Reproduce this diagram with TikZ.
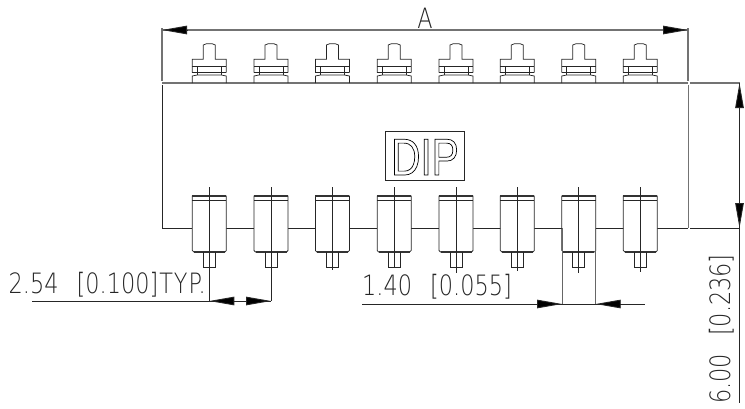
\documentclass[tikz,border=0pt]{standalone}
\usepackage{fontspec}
\usetikzlibrary{arrows.meta,calc}
\newfontfamily\cadfont[FakeStretch=0.8]{DejaVu Sans ExtraLight}
\newfontfamily\dipfont[FakeStretch=0.78]{Liberation Sans}
\tikzset{
  thin line/.style={line width=0.75pt,draw=black!85},
  gray line/.style={line width=1.3pt,draw=black!55},
  dim/.style={line width=0.9pt,draw=black!85},
  tip/.style={-{Triangle[length=25pt,width=8.5pt,fill=black]}},
  cad/.style={inner sep=0pt,font=\cadfont\fontsize{28}{28}\selectfont,text=black!85},
}
\begin{document}
\begin{tikzpicture}[x=1pt,y=-1pt]
\useasboundingbox (0,0) rectangle (745,408);
% body outline
\draw[gray line] (162,83) -- (688,83);
\draw[gray line] (162,28) -- (162,81);
\draw[gray line] (688,28) -- (688,81);
\draw[thin line] (162,85) -- (162,228) -- (192,228);
\draw[gray line,line width=1pt] (688,85) -- (688,228);
\draw[thin line] (657,228) -- (688,228);
\draw[thin line] (226,228) -- (640,228);
% pins
\foreach \x/\e in {209.3/301,271/301,332.4/270,394.2/268,456/273,517.3/271,578.8/273,640.3/272}{
  \begin{scope}[shift={(\x,0)}]
    % top pins
    \draw[thin line] (-17,83) -- (-17,76) -- (-12,75) -- (12,75) -- (17,76) -- (17,83);
    \draw[thin line] (-12,66.7) -- (-12,75) (12,66.7) -- (12,75);
    \draw[thin line] (-17,72.7) -- (17,72.7);
    \draw[thin line] (-17,66.7) -- (17,66.7);
    \draw[thin line] (-17,72.7) -- (-17,59.3) -- (-6,59.3) -- (-6,45) -- (-3,43.8) -- (3,43.8) -- (6,45) -- (6,59.3) -- (17,59.3) -- (17,72.7);
    % bottom pins
    \draw[thin line,fill=white] (-17,196) -- (17,196) -- (17,250.5) -- (15.5,252) -- (-15.5,252) -- (-17,250.5) -- cycle;
    \draw[line width=1.4pt,draw=black!80] (-17,196) -- (17,196);
    \draw[line width=1.1pt,draw=black!80] (-15.5,252) -- (15.5,252);
    \draw[thin line] (-17,200.5) -- (17,200.5);
    \draw[thin line] (-6,252) -- (-6,267) -- (6,267) -- (6,252);
    \draw[thin line] (0,187) -- (0,\e);
  \end{scope}
}
% extension lines
\draw[thin line,draw=black!60] (562,228) -- (562,304);
\draw[thin line,draw=black!60] (595.7,228) -- (595.7,304);
\draw[gray line] (690,83) -- (739.5,83);
\draw[thin line] (690,228) -- (739.5,228);
% named dimension ends
\coordinate (aL) at (162,30);
\coordinate (aR) at (688,30);
\coordinate (pL) at (209.3,301);
\coordinate (pR) at (271,301);
\coordinate (pS) at (32,301);
\coordinate (wL) at (562,304);
\coordinate (wR) at (595.7,304);
\coordinate (wS) at (362,304);
\coordinate (wE) at (645,304);
\coordinate (hT) at (739.5,83);
\coordinate (hB) at (739.5,228);
\coordinate (hE) at (739.5,403);
% dimension A
\draw[gray line] (aL) -- (aR);
\draw[dim,tip] ($(aL)+(25,0)$) -- (aL);
\draw[dim,tip] ($(aR)+(-25,0)$) -- (aR);
% pitch
\draw[dim] (pS) -- (pR);
\draw[dim,tip] (234,301) -- (pL);
\draw[dim,tip] (246,301) -- (pR);
% width
\draw[dim] (wS) -- (wE);
\draw[dim,tip] (537,304) -- (wL);
\draw[dim,tip] (620.7,304) -- (wR);
% height
\draw[dim] (hT) -- (hE);
\draw[dim,tip] (739.5,108) -- (hT);
\draw[dim,tip] (739.5,203) -- (hB);
% texts
\node[cad,anchor=base] (tA) at (425,28) {A};
\node[cad,anchor=base west] (tP) at (8.5,293) {2.54\hspace{11pt} [0.100]\hspace{1pt}T\hspace{1pt}Y\hspace{1pt}P.};
\node[cad,anchor=base west] (tW) at (362,295) {1.40\hspace{11pt} [0.055]};
\node[cad,anchor=base west,rotate=90] (tH) at (730.5,404) {6.00\hspace{11pt} [0.236]};
% DIP
\draw[thin line] (385.7,131.7) rectangle (464,180);
\node[inner sep=0pt,anchor=base] (tD) at (425,175) {\dipfont\fontsize{52}{52}\selectfont\special{pdf:code 1 Tr 0.7 w}DIP\special{pdf:code 0 Tr}};
\end{tikzpicture}
\end{document}
